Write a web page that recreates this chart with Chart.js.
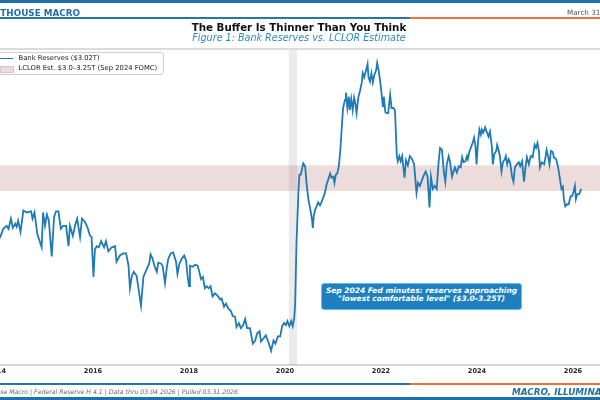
<!DOCTYPE html>
<html lang="en">
<head>
  <meta charset="UTF-8" />
  <title>The Buffer Is Thinner Than You Think</title>
  <style>
    body { margin: 0; background: #fff; }
    #wrap {
      position: relative;
      width: 600px;
      height: 400px;
      overflow: hidden;
      background: #fff;
      font-family: "DejaVu Sans", sans-serif;
    }
    #wrap canvas { position: absolute; left: 0; top: 0; }
    .abs { position: absolute; white-space: nowrap; z-index: 2; }
    .rule { position: absolute; z-index: 2; }
    .blue { background: #2277b0; }
    .orange { background: #e8743b; }
    .brand { color: #1f6ea6; font-weight: bold; }
    #title { left: 0; width: 598px; top: 22.3px; text-align: center; font-size: 10.3px; font-weight: bold; line-height: 1; color: #111; }
    #subtitle { left: 0; width: 598px; top: 33.4px; text-align: center; font-size: 9.6px; font-style: italic; line-height: 1; color: #2a8ac4; }
    #legendBox {
      position: absolute; left: -10px; top: 52px; width: 172px; height: 21px;
      border: 1px solid #cfcfcf; border-radius: 3px; background: rgba(255,255,255,0.92); z-index: 2;
    }
    .legTxt { font-size: 6.8px; line-height: 8px; color: #222; }
    #note {
      position: absolute; left: 321px; top: 283px; width: 199px; height: 22px;
      background: #1f80c0; border: 1px solid #5fbdf0; border-radius: 3px;
      color: #fff; font-size: 7.5px; font-weight: bold; font-style: italic;
      line-height: 8.3px; text-align: center; padding-top: 2.5px; box-sizing: content-box; z-index: 2;
    }
  </style>
</head>
<body>
<div id="wrap">
  <canvas id="grafico" width="600" height="400"></canvas>

  <div class="rule blue" style="left:0;top:0;width:600px;height:3px;background:#1f6fa8"></div>
  <div class="abs brand" style="right:520px;top:8.5px;font-size:8.8px;line-height:1">LIGHTHOUSE MACRO</div>
  <div class="abs" style="left:567px;top:9px;font-size:7.2px;line-height:1;color:#555">March 31, 2026</div>
  <div class="rule blue" style="left:0;top:17px;width:410px;height:1.5px"></div>
  <div class="rule orange" style="left:410px;top:17px;width:190px;height:1.5px"></div>

  <div id="title" class="abs">The Buffer Is Thinner Than You Think</div>
  <div id="subtitle" class="abs">Figure 1: Bank Reserves vs. LCLOR Estimate</div>

  <div id="legendBox"></div>
  <div class="rule" style="left:0;top:57.5px;width:13px;height:1.8px;background:#1f7ab5;z-index:3"></div>
  <div class="rule" style="left:0;top:65.5px;width:12px;height:5px;background:#ecdcdc;border:1px solid #dcc4c4;z-index:3"></div>
  <div class="abs legTxt" style="left:18.5px;top:53.5px;z-index:3">Bank Reserves ($3.02T)</div>
  <div class="abs legTxt" style="left:18.5px;top:63.5px;z-index:3">LCLOR Est. $3.0–3.25T (Sep 2024 FOMC)</div>

  <div id="note">Sep 2024 Fed minutes: reserves approaching<br>"lowest comfortable level" ($3.0-3.25T)</div>

  <div class="rule blue" style="left:0;top:382.5px;width:410px;height:2px"></div>
  <div class="rule orange" style="left:410px;top:382.5px;width:190px;height:2px"></div>
  <div class="abs" style="right:362px;top:389.3px;font-size:6.2px;line-height:1;font-style:italic;color:#666">Lighthouse Macro | Federal Reserve H.4.1 | Data thru 03.04.2026 | Pulled 03.31.2026</div>
  <div class="abs brand" style="left:512px;top:387.9px;font-size:8.8px;line-height:1;font-style:italic">MACRO, ILLUMINATED.</div>
  <div class="rule" style="left:0;top:397px;width:600px;height:3px;background:#1f6fa8"></div>
</div>

<script src="https://cdn.jsdelivr.net/npm/chart.js"></script>
<script>
  // weekly-ish reading of Fed H.4.1 reserve balances, decimal years / $ trillions
  const weeks = [
    2014.06, 2014.13, 2014.20, 2014.24, 2014.29, 2014.33, 2014.38, 2014.41, 2014.44, 2014.49,
    2014.55, 2014.62, 2014.71, 2014.74, 2014.78, 2014.84, 2014.93, 2014.96, 2015.00, 2015.04,
    2015.08, 2015.14, 2015.19, 2015.23, 2015.28, 2015.33, 2015.38, 2015.44, 2015.49, 2015.52,
    2015.58, 2015.63, 2015.67, 2015.73, 2015.77, 2015.83, 2015.88, 2015.94, 2015.97, 2016.01,
    2016.04, 2016.08, 2016.12, 2016.17, 2016.23, 2016.27, 2016.32, 2016.39, 2016.46, 2016.49,
    2016.56, 2016.63, 2016.69, 2016.74, 2016.77, 2016.81, 2016.85, 2016.91, 2016.94, 2017.00,
    2017.05, 2017.12, 2017.17, 2017.20, 2017.24, 2017.28, 2017.33, 2017.36, 2017.42, 2017.45,
    2017.50, 2017.54, 2017.57, 2017.62, 2017.67, 2017.73, 2017.76, 2017.80, 2017.85, 2017.90,
    2017.94, 2017.97, 2018.00, 2018.02, 2018.08, 2018.13, 2018.18, 2018.21, 2018.25, 2018.29,
    2018.33, 2018.37, 2018.41, 2018.45, 2018.49, 2018.54, 2018.59, 2018.65, 2018.68, 2018.73,
    2018.77, 2018.82, 2018.87, 2018.91, 2018.96, 2018.99, 2019.04, 2019.08, 2019.13, 2019.17,
    2019.21, 2019.27, 2019.33, 2019.38, 2019.42, 2019.47, 2019.50, 2019.55, 2019.60, 2019.65,
    2019.71, 2019.76, 2019.80, 2019.85, 2019.90, 2019.94, 2019.98, 2020.02, 2020.05, 2020.09,
    2020.13, 2020.16, 2020.19, 2020.21, 2020.24, 2020.28, 2020.30, 2020.33, 2020.38, 2020.42,
    2020.45, 2020.49, 2020.52, 2020.56, 2020.58, 2020.60, 2020.63, 2020.66, 2020.69, 2020.73,
    2020.76, 2020.80, 2020.83, 2020.87, 2020.90, 2020.94, 2020.97, 2021.01, 2021.03, 2021.06,
    2021.09, 2021.12, 2021.15, 2021.18, 2021.21, 2021.25, 2021.27, 2021.30, 2021.33, 2021.35,
    2021.38, 2021.41, 2021.44, 2021.47, 2021.49, 2021.53, 2021.56, 2021.60, 2021.62, 2021.65,
    2021.69, 2021.72, 2021.74, 2021.77, 2021.80, 2021.83, 2021.86, 2021.90, 2021.92, 2021.95,
    2021.98, 2022.01, 2022.04, 2022.06, 2022.09, 2022.12, 2022.15, 2022.19, 2022.22, 2022.26,
    2022.29, 2022.31, 2022.33, 2022.35, 2022.38, 2022.41, 2022.44, 2022.49, 2022.52, 2022.56,
    2022.60, 2022.65, 2022.69, 2022.74, 2022.77, 2022.81, 2022.88, 2022.93, 2022.97, 2023.01,
    2023.04, 2023.08, 2023.12, 2023.16, 2023.20, 2023.23, 2023.27, 2023.31, 2023.34, 2023.37,
    2023.41, 2023.44, 2023.48, 2023.51, 2023.54, 2023.58, 2023.62, 2023.66, 2023.69, 2023.72,
    2023.76, 2023.79, 2023.81, 2023.84, 2023.87, 2023.91, 2023.94, 2023.97, 2023.99, 2024.02,
    2024.05, 2024.08, 2024.10, 2024.13, 2024.17, 2024.20, 2024.24, 2024.27, 2024.31, 2024.33,
    2024.36, 2024.40, 2024.42, 2024.45, 2024.48, 2024.51, 2024.54, 2024.58, 2024.60, 2024.63,
    2024.66, 2024.69, 2024.73, 2024.76, 2024.79, 2024.83, 2024.87, 2024.90, 2024.94, 2024.98,
    2025.01, 2025.04, 2025.08, 2025.12, 2025.16, 2025.20, 2025.23, 2025.26, 2025.29, 2025.31,
    2025.35, 2025.40, 2025.42, 2025.45, 2025.48, 2025.51, 2025.54, 2025.58, 2025.60, 2025.65,
    2025.69, 2025.73, 2025.76, 2025.79, 2025.81, 2025.84, 2025.88, 2025.91, 2025.95, 2025.98,
    2026.01, 2026.04, 2026.06, 2026.09, 2026.13, 2026.17
  ];
  const reserves = [
    2.54, 2.63, 2.66, 2.63, 2.73, 2.64, 2.68, 2.65, 2.71, 2.60,
    2.81, 2.79, 2.80, 2.73, 2.79, 2.58, 2.45, 2.79, 2.66, 2.77,
    2.71, 2.36, 2.75, 2.80, 2.80, 2.63, 2.66, 2.66, 2.46, 2.66,
    2.56, 2.67, 2.73, 2.55, 2.73, 2.70, 2.65, 2.56, 2.55, 2.16,
    2.43, 2.46, 2.45, 2.51, 2.45, 2.51, 2.41, 2.45, 2.46, 2.31,
    2.37, 2.39, 2.39, 2.27, 2.05, 2.17, 2.21, 2.17, 2.07, 1.88,
    2.16, 2.24, 2.29, 2.38, 2.34, 2.27, 2.21, 2.30, 2.29, 2.27,
    2.10, 2.26, 2.34, 2.39, 2.40, 2.31, 2.19, 2.29, 2.34, 2.37,
    2.32, 2.17, 2.07, 2.27, 2.26, 2.28, 2.27, 2.22, 2.14, 2.16,
    2.05, 2.07, 2.05, 2.07, 1.97, 2.00, 1.98, 1.94, 1.95, 1.87,
    1.90, 1.85, 1.83, 1.78, 1.77, 1.67, 1.71, 1.66, 1.69, 1.75,
    1.66, 1.66, 1.51, 1.54, 1.61, 1.63, 1.53, 1.56, 1.59, 1.53,
    1.44, 1.54, 1.51, 1.58, 1.58, 1.68, 1.71, 1.69, 1.73, 1.68,
    1.73, 1.68, 1.75, 1.88, 2.50, 3.00, 3.16, 3.16, 3.27, 3.24,
    3.07, 2.91, 2.84, 2.73, 2.64, 2.76, 2.82, 2.85, 2.89, 2.86,
    2.89, 2.94, 2.98, 3.07, 3.11, 3.17, 3.13, 3.14, 3.08, 3.16,
    3.17, 3.24, 3.38, 3.60, 3.81, 3.89, 3.96, 3.81, 3.92, 3.79,
    3.90, 3.79, 3.91, 3.84, 3.76, 3.92, 3.97, 4.06, 4.15, 4.11,
    4.18, 4.24, 4.11, 4.07, 4.15, 4.06, 4.13, 4.18, 4.25, 4.18,
    4.08, 3.96, 3.82, 3.92, 3.77, 3.76, 3.76, 3.94, 3.81, 3.81,
    3.79, 3.57, 3.34, 3.29, 3.34, 3.29, 3.34, 3.13, 3.30, 3.25,
    3.34, 3.31, 3.26, 2.98, 3.08, 3.05, 3.14, 3.19, 3.14, 2.84,
    3.14, 3.02, 3.05, 3.02, 3.28, 3.42, 3.40, 3.18, 3.09, 3.26,
    3.34, 3.28, 3.14, 3.19, 3.23, 3.18, 3.24, 3.23, 3.33, 3.28,
    3.29, 3.34, 3.31, 3.38, 3.42, 3.47, 3.52, 3.43, 3.26, 3.47,
    3.60, 3.55, 3.60, 3.57, 3.62, 3.58, 3.53, 3.58, 3.43, 3.26,
    3.36, 3.39, 3.45, 3.40, 3.33, 3.19, 3.28, 3.31, 3.34, 3.26,
    3.31, 3.28, 3.14, 3.09, 3.23, 3.26, 3.28, 3.24, 3.29, 3.09,
    3.23, 3.33, 3.26, 3.34, 3.33, 3.45, 3.42, 3.47, 3.39, 3.23,
    3.28, 3.26, 3.31, 3.40, 3.34, 3.26, 3.39, 3.38, 3.33, 3.31,
    3.23, 3.11, 3.02, 3.04, 2.92, 2.85, 2.87, 2.87, 2.95, 2.95,
    2.99, 3.05, 2.92, 2.97, 2.97, 3.02
  ];
  const yearTicks = [2014, 2016, 2018, 2020, 2022, 2024, 2026];
  const lclorBand = [3.0, 3.25];          // $T, Sep 2024 FOMC estimate
  const recession = [2020.08, 2020.25];   // Feb-Apr 2020

  const LINE_COLOR = "#1f7ab5";

  // shaded areas + top frame line, drawn through the chart scales
  const bandas = {
    id: "bandas",
    beforeDatasetsDraw(chart) {
      const { ctx, chartArea: a, scales: { x, y } } = chart;
      ctx.save();
      const rx0 = x.getPixelForValue(recession[0]);
      const rx1 = x.getPixelForValue(recession[1]);
      ctx.fillStyle = "rgba(0,0,0,0.08)";
      ctx.fillRect(rx0, a.top, rx1 - rx0, a.bottom - a.top);

      const by0 = y.getPixelForValue(lclorBand[1]);
      const by1 = y.getPixelForValue(lclorBand[0]);
      ctx.fillStyle = "rgba(160,80,80,0.2)";
      ctx.fillRect(a.left, by0, a.right - a.left, by1 - by0);

      ctx.strokeStyle = "#dcdcdc";
      ctx.lineWidth = 2;
      ctx.beginPath();
      ctx.moveTo(a.left, a.top);
      ctx.lineTo(a.right, a.top);
      ctx.stroke();
      ctx.restore();
    }
  };

  new Chart(document.getElementById("grafico"), {
    type: "line",
    data: {
      datasets: [{
        label: "Bank Reserves ($3.02T)",
        data: weeks.map((w, i) => ({ x: w, y: reserves[i] })),
        borderColor: LINE_COLOR,
        borderWidth: 1.8,
        pointRadius: 0,
        tension: 0,
        fill: false
      }]
    },
    options: {
      responsive: false,
      animation: false,
      layout: { padding: { top: 49, bottom: 23, left: 0, right: 0 } },
      plugins: { legend: { display: false }, tooltip: { enabled: false } },
      scales: {
        x: {
          type: "linear",
          min: 2014.0625,   // the frame is cropped just right of the 2014 tick
          max: 2026.5625,
          grid: { display: false, drawTicks: false },
          border: { display: true, color: "#d6d6d6", width: 2 },
          afterBuildTicks: s => { s.ticks = yearTicks.map(v => ({ value: v })); },
          afterFit: s => { s.paddingLeft = 0; s.paddingRight = 0; },
          ticks: {
            autoSkip: false,
            maxRotation: 0,
            padding: 2,
            color: "#2a2a2a",
            font: { family: "DejaVu Sans", size: 6.6, weight: "bold" },
            callback: v => String(v)
          }
        },
        y: {
          display: false,
          min: 1.30,
          max: 4.386
        }
      }
    },
    plugins: [bandas]
  });
</script>
</body>
</html>
